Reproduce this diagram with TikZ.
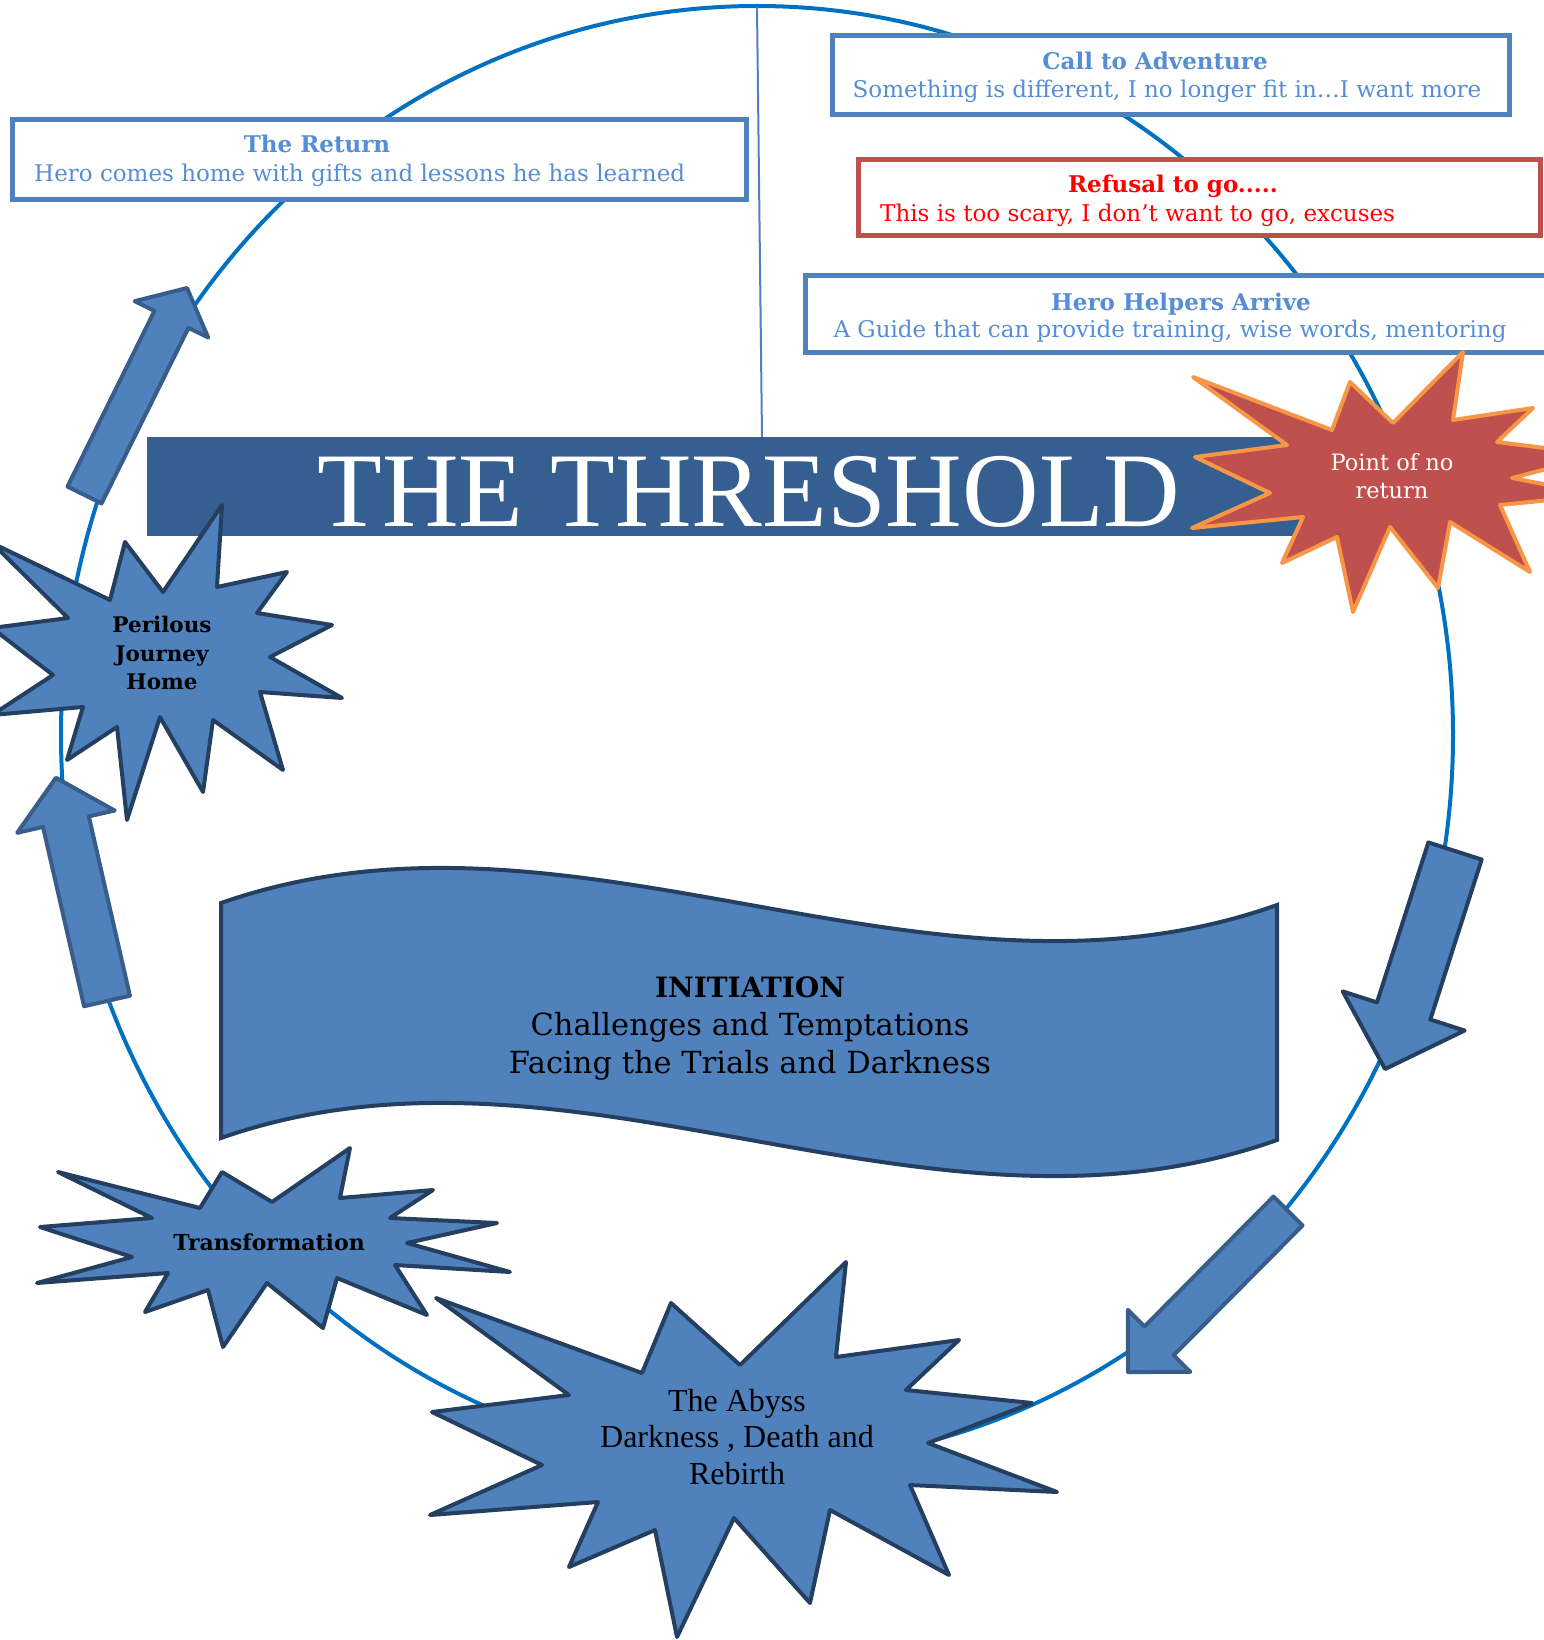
\documentclass[tikz,border=0pt]{standalone}
\usepackage{fontspec}
\setmainfont{DejaVu Serif}
\newfontfamily\timesfont{Liberation Serif}
\usepackage{xcolor}
\definecolor{ringblue}{HTML}{0070C0}
\definecolor{boxblue}{HTML}{4F81BD}
\definecolor{boxtextblue}{HTML}{558ED5}
\definecolor{darkline}{HTML}{243F60}
\definecolor{arrowline}{HTML}{385D8A}
\definecolor{bannerblue}{HTML}{365F91}
\definecolor{nogored}{HTML}{C0504D}
\definecolor{nogoorange}{HTML}{F79646}
\definecolor{refusalred}{HTML}{FF0000}

\newcommand{\journeyarrow}[8]{%
  \begin{scope}[shift={(#2,#3)},rotate=#4]
    \draw[#1] (0,#6) -- ({#5-#8},#6) -- ({#5-#8},#7) -- (#5,0) -- ({#5-#8},-#7) -- ({#5-#8},-#6) -- (0,-#6) -- cycle;
  \end{scope}}

\begin{document}
\begin{tikzpicture}[x=1pt,y=-1pt,
  framebox/.style={draw=boxblue,line width=5pt,fill=white,inner sep=0pt},
  boxtitle/.style={text=boxtextblue,font=\fontsize{23}{28}\selectfont\bfseries,inner sep=0pt},
  boxtext/.style={text=boxtextblue,font=\fontsize{23}{28}\selectfont,inner sep=0pt},
  starshape/.style={fill=boxblue,draw=darkline,line width=4pt,line join=round},
  arrowshape/.style={fill=boxblue,draw=arrowline,line width=4pt,line join=round},
  startext/.style={font=\fontsize{21.5}{28.5}\selectfont\bfseries,align=center,inner sep=0pt}]
  \useasboundingbox (0,0) rectangle (1543,1640);
  \draw[ringblue,line width=4pt] (757,735) ellipse [x radius=696pt, y radius=729pt];
  \coordinate (ringtop) at (757,7);
  \coordinate (linefoot) at (762,437);
  \draw[boxblue,line width=2pt] (ringtop) to (linefoot);

  \node[fill=bannerblue,minimum width=1153pt,minimum height=99pt,inner sep=0pt] (banner) at (723.5,486.5) {};
  \node[anchor=base,text=white,font=\timesfont\fontsize{106}{110}\selectfont,inner sep=0pt] (threshold) at (749,526) {THE THRESHOLD};

  \node[framebox,minimum width=734pt,minimum height=80pt] (returnbox) at (379,159.5) {};
  \node[boxtitle,anchor=base] (returntitle) at (317,153) {The Return};
  \node[boxtext,anchor=base west] (returntext) at (34,182) {Hero comes home with gifts and lessons he has learned};

  \node[framebox,minimum width=677pt,minimum height=79pt] (callbox) at (1171,75) {};
  \node[boxtitle,anchor=base] (calltitle) at (1155,70) {Call to Adventure};
  \node[boxtext,anchor=base] (calltext) at (1167,98) {Something is different, I no longer fit in…I want more};

  \node[framebox,draw=nogored,minimum width=681.5pt,minimum height=76pt] (refusalbox) at (1199.25,197.5) {};
  \node[boxtitle,text=refusalred,anchor=base] (refusaltitle) at (1173,193) {Refusal to go.....};
  \node[boxtext,text=refusalred,anchor=base west] (refusaltext) at (880,222) {This is too scary, I don’t want to go, excuses};

  \node[framebox,minimum width=755pt,minimum height=77pt] (helperbox) at (1183,314) {};
  \node[boxtitle,anchor=base] (helpertitle) at (1181,310) {Hero Helpers Arrive};
  \node[boxtext,anchor=base] (helpertext) at (1170,337) {A Guide that can provide training, wise words, mentoring};

  \draw[starshape,fill=nogored,draw=nogoorange] (1193,377) -- (1332,430) -- (1350,382) -- (1393,423) -- (1463,352) -- (1453,420) -- (1533,408) -- (1497,442) -- (1600,455) -- (1512,478) -- (1600,495) -- (1500,505) -- (1530,572) -- (1450,522) -- (1438,588) -- (1390,527) -- (1353,612) -- (1337,537) -- (1282,563) -- (1303,517) -- (1192,528) -- (1270,493) -- (1195,457) -- (1287,445) -- cycle;
  \node[startext,font=\fontsize{22.5}{28}\selectfont,text=white] (noreturn) at (1392,476) {Point of no\\return};

  \draw[starshape] (222,505) -- (217,587) -- (287,572) -- (257,613) -- (332,625) -- (270,657) -- (342,698) -- (260,692) -- (283,770) -- (213,720) -- (203,792) -- (160,717) -- (127,820) -- (117,727) -- (67,760) -- (83,707) -- (-8,715) -- (53,675) -- (-8,628) -- (68,618) -- (-8,543) -- (110,600) -- (125,542) -- (163,592) -- cycle;
  \node[startext] (perilous) at (162,653) {Perilous\\Journey\\Home};

  \draw[starshape] (350,1148) -- (340,1198) -- (433,1190) -- (390,1218) -- (497,1223) -- (407,1243) -- (510,1272) -- (395,1265) -- (427,1315) -- (337,1278) -- (323,1328) -- (267,1283) -- (223,1347) -- (208,1290) -- (145,1312) -- (168,1273) -- (37,1283) -- (132,1257) -- (40,1227) -- (152,1218) -- (58,1172) -- (200,1208) -- (222,1172) -- (272,1202) -- cycle;
  \node[startext,font=\fontsize{22}{28}\selectfont\bfseries,anchor=base] (transformation) at (269,1250) {Transformation};

  \draw[starshape] (846,1262) -- (836,1357) -- (959,1340) -- (906,1390) -- (1032,1403) -- (928,1443) -- (1057,1492) -- (910,1485) -- (949,1575) -- (830,1510) -- (810,1603) -- (734,1518) -- (677,1637) -- (655,1530) -- (569,1567) -- (598,1502) -- (430,1515) -- (542,1465) -- (432,1412) -- (569,1395) -- (436,1298) -- (642,1373) -- (671,1303) -- (740,1365) -- cycle;
  \node[startext,font=\timesfont\fontsize{32}{36.5}\selectfont] (abyss) at (737,1437) {The Abyss\\Darkness , Death and\\Rebirth};

  \journeyarrow{arrowshape}{84.5}{495}{63.65}{231}{19}{41}{35}
  \journeyarrow{arrowshape}{107}{1001}{102.9}{229}{23.5}{50}{45}
  \journeyarrow{arrowshape,draw=darkline}{1455}{851}{-107.8}{229}{28}{64}{61}
  \journeyarrow{arrowshape}{1288}{1211}{-134.8}{227}{20.5}{44}{44}

  \draw[fill=boxblue,draw=darkline,line width=4pt] (221,903) .. controls (573,780) and (925,1030) .. (1277,905) -- (1277,1140) .. controls (925,1265) and (573,1015) .. (221,1138) -- cycle;
  \node[align=center,inner sep=0pt,font=\fontsize{30.5}{38}\selectfont] (initiation) at (750,1028) {{\bfseries\fontsize{28}{38}\selectfont INITIATION}\\Challenges and Temptations\\Facing the Trials and Darkness};
\end{tikzpicture}
\end{document}
